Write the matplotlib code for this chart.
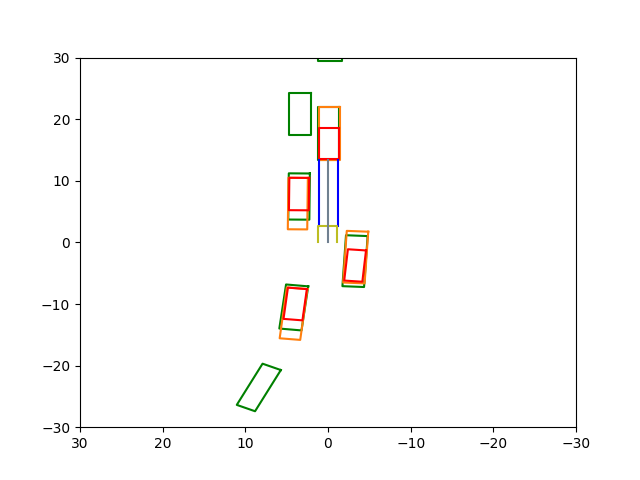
import numpy as np
import matplotlib
matplotlib.use("Agg")
import matplotlib.pyplot as plt

# boxes: centre, width, length, heading (deg from +x), colour
box_cx = [-0.2, 3.37, -0.05, 3.5, -3.27, 4.14, 8.37,
          -0.16, 3.65, -3.35, 4.17,
          -0.16, 3.5, -3.28, 3.97]
box_cy = [33.0, 20.82, 17.7, 7.45, -3.04, -10.56, -23.55,
          17.72, 6.3, -2.39, -11.57,
          16.06, 7.85, -3.75, -10.0]
box_w = [2.9, 2.6, 2.6, 2.55, 2.62, 2.7, 2.44,
         2.58, 2.35, 2.6, 2.5,
         2.42, 2.4, 2.2, 2.3]
box_l = [7.2, 6.84, 8.6, 7.5, 8.28, 7.2, 7.38,
         8.66, 8.36, 8.4, 8.3,
         5.16, 5.26, 5.1, 5.1]
box_yaw = [90, 90, 90, 90.5, 93, 96.5, 115,
           90, 90.5, 93, 96,
           90, 90.5, 95, 96]
box_color = ['g'] * 7 + ['tab:orange'] * 4 + ['r'] * 4

# ego vehicle lines
lane_left_x = [1.1, 1.1]
lane_right_x = [-1.2, -1.2]
lane_y = [2.7, 13.4]
front_x = [1.15, 1.15, -1.1, -1.1]
front_y = [0, 2.7, 2.7, 0]
center_x = [0, 0]
center_y = [0, 13.4]


def box_corners(cx, cy, w, l, yaw):
    a = np.deg2rad(yaw)
    d = np.array([np.cos(a), np.sin(a)])
    n = np.array([-np.sin(a), np.cos(a)])
    c = np.array([cx, cy])
    pts = [c + d * l / 2 + n * w / 2, c + d * l / 2 - n * w / 2,
           c - d * l / 2 - n * w / 2, c - d * l / 2 + n * w / 2]
    pts.append(pts[0])
    pts = np.array(pts)
    return pts[:, 0], pts[:, 1]


fig, ax = plt.subplots(figsize=(6.4, 4.8), dpi=100)

for i in range(len(box_cx)):
    xs, ys = box_corners(box_cx[i], box_cy[i], box_w[i], box_l[i], box_yaw[i])
    ax.plot(xs, ys, color=box_color[i])

ax.plot(lane_left_x, lane_y, color='b')
ax.plot(lane_right_x, lane_y, color='b')
ax.plot(front_x, front_y, color='tab:olive')
ax.plot(center_x, center_y, color='slategray')

ax.set_xlim(30, -30)
ax.set_ylim(-30, 30)

plt.savefig("out.png")
